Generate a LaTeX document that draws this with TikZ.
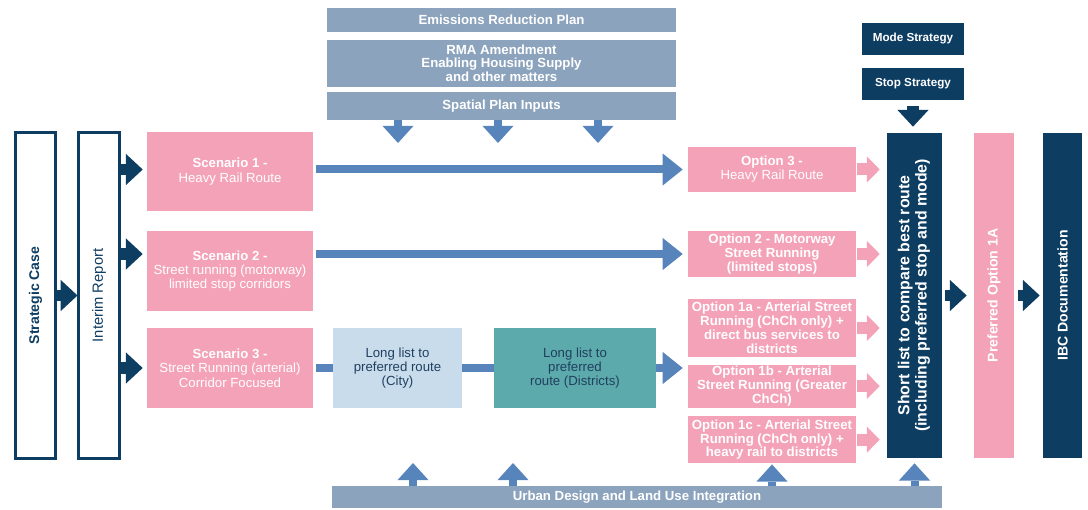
\documentclass[tikz,border=0pt]{standalone}
\usepackage{fontspec}
\setmainfont{Liberation Sans}
\usepackage{graphicx}
\usetikzlibrary{arrows.meta,positioning,calc}
\definecolor{navy}{HTML}{0E3D62}
\definecolor{pinkbox}{HTML}{F4A2B7}
\definecolor{greyblue}{HTML}{8CA3BD}
\definecolor{arrowblue}{HTML}{5884BC}
\definecolor{citybox}{HTML}{C8DCEC}
\definecolor{tealbox}{HTML}{5CAAAB}
\definecolor{darktext}{HTML}{21405F}
\tikzset{%
    outline_box/.style={%
        rectangle, draw=navy, line width=0.075cm, fill=white, minimum width=1.0cm, minimum height=8.15cm, inner sep=0pt, text=navy
    },
    column_box/.style={%
        rectangle, fill=navy, minimum height=8.125cm, inner sep=0pt, text=white, font=\bfseries\fontsize{10}{11}\selectfont
    },
    scenario_box/.style={%
        rectangle, fill=pinkbox, text=white, minimum width=4.15cm, minimum height=1.975cm, inner sep=0pt, align=center, font=\fontsize{9.4}{10.2}\selectfont
    },
    option_box/.style={%
        rectangle, fill=pinkbox, text=white, minimum width=4.2cm, inner sep=0pt, align=center, font=\bfseries\fontsize{9.4}{9.9}\selectfont
    },
    input_bar/.style={%
        rectangle, fill=greyblue, text=white, minimum width=8.725cm, inner sep=0pt, align=center, font=\bfseries\fontsize{9.4}{9.7}\selectfont
    },
    strategy_box/.style={%
        rectangle, fill=navy, text=white, minimum width=2.55cm, minimum height=0.8cm, inner sep=0pt, font=\bfseries\fontsize{8.3}{9}\selectfont
    },
    list_box/.style={%
        rectangle, minimum height=2cm, inner sep=0pt, text=darktext, align=center, font=\fontsize{9.4}{9.8}\selectfont
    },
    navy_arrow/.style={%
        draw=navy, line width=0.28cm, -{Triangle[width=0.78cm,length=0.42cm,line width=0pt]}
    },
    blue_arrow/.style={%
        draw=arrowblue, line width=0.2cm, -{Triangle[width=0.8cm,length=0.5cm,line width=0pt]}
    },
    blue_link/.style={%
        draw=arrowblue, line width=0.2cm
    },
    feed_arrow/.style={%
        draw=arrowblue, line width=0.2cm, -{Triangle[width=0.78cm,length=0.43cm,line width=0pt]}
    },
    pink_arrow/.style={%
        draw=pinkbox, line width=0.3cm, -{Triangle[width=0.65cm,length=0.32cm,line width=0pt]}
    },
}

\begin{document}
\begin{tikzpicture}[x=0.025cm, y=-0.025cm]
      \useasboundingbox (0,0) rectangle (1088,510);

      % left hand reports
      \node[outline_box] (strategic) at (35.5,295.5) {\rotatebox{90}{\bfseries\fontsize{10}{11}\selectfont Strategic Case}};
      \node[outline_box] (interim) at (99,295.5) {\rotatebox{90}{\fontsize{10.5}{11}\selectfont Interim Report}};

      % scenarios
      \node[scenario_box] (sc1) at (230,171.5) {\textbf{Scenario 1 -}\\Heavy Rail Route};
      \node[scenario_box] (sc2) at (230,271) {\textbf{Scenario 2 -}\\Street running (motorway)\\limited stop corridors};
      \node[scenario_box] (sc3) at (230,368) {\textbf{Scenario 3 -}\\Street Running (arterial)\\Corridor Focused};

      \node[list_box, fill=citybox, minimum width=3.225cm] (city) at (397.5,368) {Long list to\\preferred route\\(City)};
      \node[list_box, fill=tealbox, minimum width=4.05cm] (dist) at (575,368) {Long list to\\preferred\\route (Districts)};

      % inputs on top and below
      \node[input_bar, minimum height=0.6cm] (erp) at (501.5,20) {Emissions Reduction Plan};
      \node[input_bar, minimum height=1.175cm, below=0.175cm of erp] (rma) {RMA Amendment\\Enabling Housing Supply\\and other matters};
      \node[input_bar, minimum height=0.7cm, below=0.125cm of rma] (spatial) {Spatial Plan Inputs};
      \node[input_bar, minimum width=15.225cm, minimum height=0.55cm] (urban) at (637,497) {Urban Design and Land Use Integration};

      % options
      \node[option_box, minimum height=1.125cm] (op3) at (772,169.5) {Option 3 -\\\mdseries Heavy Rail Route};
      \node[option_box, minimum height=1.15cm] (op2) at (772,254) {Option 2 - Motorway\\Street Running\\(limited stops)};
      \node[option_box, minimum height=1.45cm] (op1a) at (772,328) {Option 1a - Arterial Street\\Running (ChCh only) +\\direct bus services to\\districts};
      \node[option_box, minimum height=1.075cm, below=0.175cm of op1a] (op1b) {Option 1b - Arterial\\Street Running (Greater\\ChCh)};
      \node[option_box, minimum height=1.175cm, below=0.2cm of op1b] (op1c) {Option 1c - Arterial Street\\Running (ChCh only) +\\heavy rail to districts};

      % strategies and final columns
      \node[strategy_box] (mode) at (913,39) {Mode Strategy};
      \node[strategy_box, below=0.3cm of mode] (stop) {Stop Strategy};
      \node[column_box, minimum width=1.375cm] (shortlist) at (914.5,295.5) {\rotatebox{90}{\fontsize{11.3}{12.2}\selectfont\begin{tabular}{@{}c@{}}Short list to compare best route\\(including preferred stop and mode)\end{tabular}}};
      \node[column_box, fill=pinkbox, minimum width=1.0cm] (pref) at (994,295.5) {\rotatebox{90}{Preferred Option 1A}};
      \node[column_box, minimum width=0.975cm] (ibc) at (1062.5,295.5) {\rotatebox{90}{IBC Documentation}};

      % connectors
      \draw[navy_arrow] (strategic.east) -- (interim.west);
      \draw[navy_arrow, shorten >=0.1cm] (interim.east |- op3.west) -- (sc1.west |- op3.west);
      \draw[navy_arrow, shorten >=0.1cm] (interim.east |- op2.west) -- (sc2.west |- op2.west);
      \draw[navy_arrow, shorten >=0.1cm] (interim.east |- sc3.west) -- (sc3.west);

      \draw[blue_arrow, shorten <=0.075cm, shorten >=0.125cm] (sc1.east |- op3.west) -- (op3.west);
      \draw[blue_arrow, shorten <=0.075cm, shorten >=0.125cm] (sc2.east |- op2.west) -- (op2.west);
      \draw[blue_link, shorten <=0.075cm] (sc3.east) -- (city.west);
      \draw[blue_link] (city.east) -- (dist.west);
      \draw[blue_arrow, shorten >=0.125cm] (dist.east) -- (dist.east -| op1a.west);

      \foreach \op in {op3,op2,op1a,op1b,op1c}
        \draw[pink_arrow, shorten <=0.025cm, shorten >=0.175cm] (\op.east) -- (\op.east -| shortlist.west);

      \draw[navy_arrow, shorten <=0.15cm, shorten >=0.15cm] (stop.south) -- (stop.south |- shortlist.north);
      \draw[navy_arrow, shorten <=0.075cm, shorten >=0.175cm] (shortlist) -- (pref);
      \draw[navy_arrow, shorten <=0.1cm, shorten >=0.075cm] (pref) -- (ibc);

      \foreach \x [count=\i] in {398,498,598} {
        \coordinate (down\i) at (\x,143);
        \draw[feed_arrow] (spatial.south -| down\i) -- (down\i);
      }
      \coordinate (up1) at (413,463);
      \coordinate (up2) at (513,463);
      \draw[feed_arrow] (urban.north -| up1) -- (up1);
      \draw[feed_arrow] (urban.north -| up2) -- (up2);
      \draw[feed_arrow, shorten >=0.025cm] (urban.north -| op1c.south) -- (op1c.south);
      \draw[feed_arrow, shorten >=0.125cm] (urban.north -| shortlist.south) -- (shortlist.south);
\end{tikzpicture}
\end{document}
